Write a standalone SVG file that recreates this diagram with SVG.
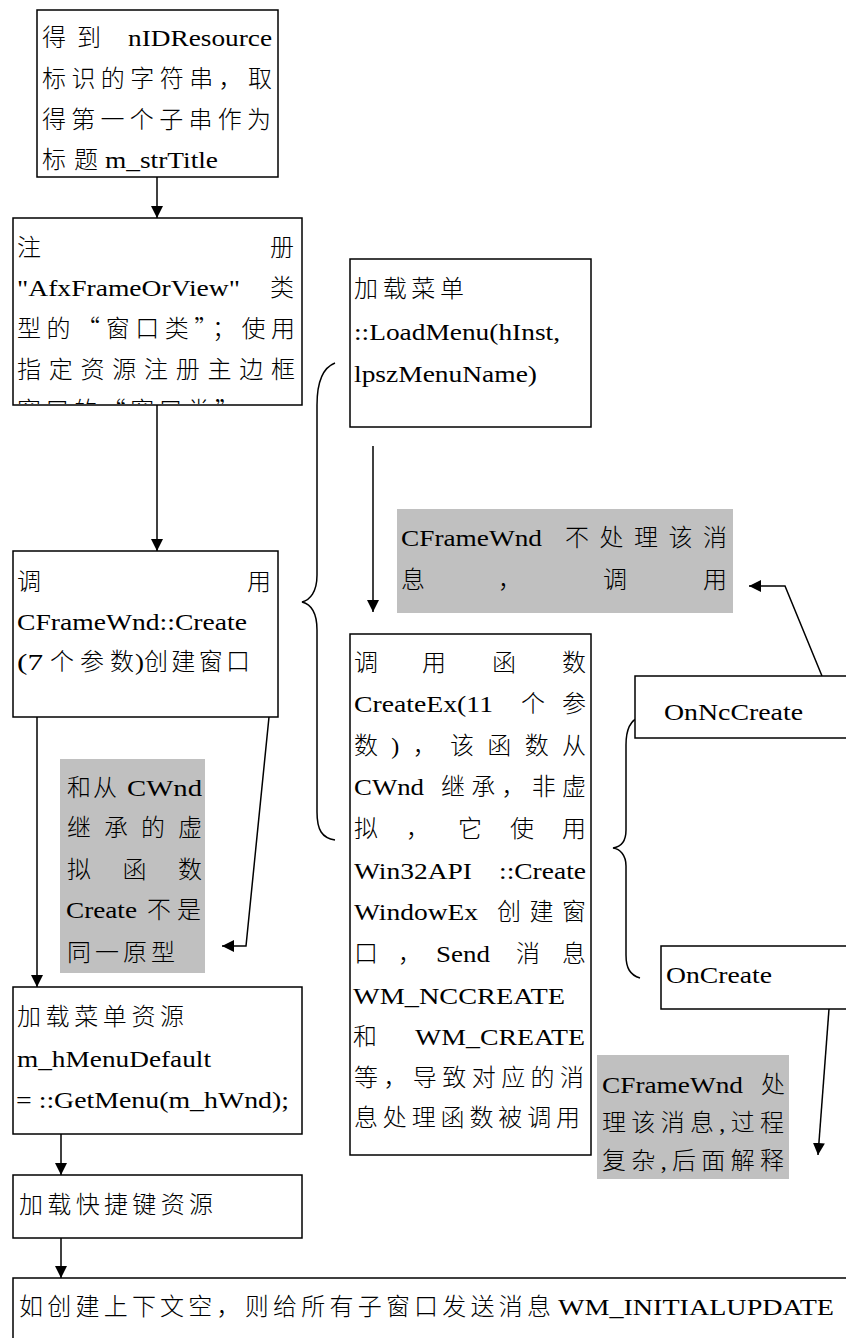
<svg xmlns="http://www.w3.org/2000/svg" width="846" height="1338" viewBox="0 0 846 1338">
<style>
.b{fill:#fff;stroke:#000;stroke-width:1.5}
.g{fill:#c0c0c0;stroke:none}
.t{font-family:"Liberation Serif","Noto Sans CJK SC",serif;font-size:24px;font-weight:300;fill:#000}
.c{font-family:"Noto Sans CJK SC","Liberation Serif",sans-serif;font-size:24px;font-weight:300;fill:#000}
.ln{fill:none;stroke:#000;stroke-width:1.5}
</style>
<defs>
<marker id="ah" viewBox="0 0 12 12" markerUnits="userSpaceOnUse" markerWidth="12" markerHeight="12" refX="12" refY="6" orient="auto">
<path d="M0,0 L12,6 L0,12 z" fill="#000"/>
</marker>
<clipPath id="clip2"><rect x="13" y="218" width="289" height="186"/></clipPath>
</defs>
<rect width="846" height="1338" fill="#fff"/>

<g id="connectors">
<path class="ln" d="M157,177 V218" marker-end="url(#ah)"/>
<path class="ln" d="M157,405 V551" marker-end="url(#ah)"/>
<path class="ln" d="M37,717 V987" marker-end="url(#ah)"/>
<path class="ln" d="M269,717 L246,946 L222,946" marker-end="url(#ah)"/>
<path class="ln" d="M61,1134 V1175" marker-end="url(#ah)"/>
<path class="ln" d="M61,1238 V1278" marker-end="url(#ah)"/>
<path class="ln" d="M373,446 V612" marker-end="url(#ah)"/>
<path class="ln" d="M822,676 L785,586 L749,586" marker-end="url(#ah)"/>
<path class="ln" d="M829,1009 L818,1155" marker-end="url(#ah)"/>
<path class="ln" d="M335,363 C322,368 317,385 317,405 L317,575 C317,592 310,600 302,602 C310,604 317,612 317,630 L317,812 C317,830 322,838 335,840"/>
<path class="ln" d="M640,717 C630,720 626,730 626,745 L626,830 C626,842 620,847 613,848 C620,849 626,855 626,866 L626,955 C626,968 630,975 640,978"/>
</g>

<g id="n1">
<rect class="b" x="37" y="10" width="241" height="167"/>
<text class="c" x="42" y="46">得</text>
<text class="c" x="77" y="46">到</text>
<text class="t" x="128" y="46" textLength="144" lengthAdjust="spacingAndGlyphs">nIDResource</text>
<text class="c" x="42" y="87" textLength="230" lengthAdjust="spacing">标识的字符串，取</text>
<text class="c" x="42" y="128" textLength="229" lengthAdjust="spacing">得第一个子串作为</text>
<text class="c" x="42" y="168" textLength="56" lengthAdjust="spacing">标题</text>
<text class="t" x="105" y="168" textLength="113" lengthAdjust="spacingAndGlyphs">m_strTitle</text>
</g>

<g id="n2">
<rect class="b" x="13" y="218" width="289" height="187"/>
<text class="c" x="17" y="256">注</text>
<text class="c" x="270" y="256">册</text>
<text class="t" x="17" y="296" textLength="223" lengthAdjust="spacingAndGlyphs">"AfxFrameOrView"</text>
<text class="c" x="270" y="296">类</text>
<text class="c" x="17" y="337" textLength="278" lengthAdjust="spacing">型的“窗口类”；使用</text>
<text class="c" x="17" y="378" textLength="278" lengthAdjust="spacing">指定资源注册主边框</text>
<text class="c" x="17" y="419" textLength="222" lengthAdjust="spacing" clip-path="url(#clip2)">窗口的“窗口类”</text>
</g>

<g id="n3">
<rect class="b" x="13" y="551" width="265" height="166"/>
<text class="c" x="17" y="590">调</text>
<text class="c" x="247" y="590">用</text>
<text class="t" x="17" y="630" textLength="230" lengthAdjust="spacingAndGlyphs">CFrameWnd::Create</text>
<text class="t" x="17" y="670" textLength="26" lengthAdjust="spacingAndGlyphs">(7</text>
<text class="c" x="50" y="670" textLength="84" lengthAdjust="spacing">个参数</text>
<text class="t" x="135" y="670" textLength="9" lengthAdjust="spacingAndGlyphs">)</text>
<text class="c" x="144" y="670" textLength="106" lengthAdjust="spacing">创建窗口</text>
</g>

<g id="noteA">
<rect class="g" x="60" y="759" width="145" height="214"/>
<text class="c" x="67" y="796" textLength="50" lengthAdjust="spacing">和从</text>
<text class="t" x="127" y="796" textLength="75" lengthAdjust="spacingAndGlyphs">CWnd</text>
<text class="c" x="67" y="836" textLength="135" lengthAdjust="spacing">继承的虚</text>
<text class="c" x="67" y="878" textLength="135" lengthAdjust="spacing">拟函数</text>
<text class="t" x="66" y="918" textLength="71" lengthAdjust="spacingAndGlyphs">Create</text>
<text class="c" x="147" y="918" textLength="54" lengthAdjust="spacing">不是</text>
<text class="c" x="67" y="961" textLength="108" lengthAdjust="spacing">同一原型</text>
</g>

<g id="n4">
<rect class="b" x="13" y="987" width="289" height="147"/>
<text class="c" x="17" y="1025" textLength="167" lengthAdjust="spacing">加载菜单资源</text>
<text class="t" x="17" y="1067" textLength="194" lengthAdjust="spacingAndGlyphs">m_hMenuDefault</text>
<text class="t" x="16" y="1108" textLength="273" lengthAdjust="spacingAndGlyphs">= ::GetMenu(m_hWnd);</text>
</g>

<g id="n5">
<rect class="b" x="13" y="1175" width="289" height="63"/>
<text class="c" x="19" y="1213" textLength="194" lengthAdjust="spacing">加载快捷键资源</text>
</g>

<g id="n6">
<rect class="b" x="13" y="1278" width="850" height="80"/>
<text class="c" x="19" y="1315" textLength="532" lengthAdjust="spacing">如创建上下文空，则给所有子窗口发送消息</text>
<text class="t" x="558" y="1315" textLength="276" lengthAdjust="spacingAndGlyphs">WM_INITIALUPDATE</text>
</g>

<g id="n7">
<rect class="b" x="350" y="259" width="241" height="168"/>
<text class="c" x="354" y="297" textLength="110" lengthAdjust="spacing">加载菜单</text>
<text class="t" x="354" y="340" textLength="206" lengthAdjust="spacingAndGlyphs">::LoadMenu(hInst,</text>
<text class="t" x="354" y="382" textLength="183" lengthAdjust="spacingAndGlyphs">lpszMenuName)</text>
</g>

<g id="noteB">
<rect class="g" x="397" y="509" width="336" height="104"/>
<text class="t" x="401" y="546" textLength="141" lengthAdjust="spacingAndGlyphs">CFrameWnd</text>
<text class="c" x="565" y="546" textLength="162" lengthAdjust="spacing">不处理该消</text>
<text class="c" x="401" y="588">息</text>
<text class="c" x="498" y="588">，</text>
<text class="c" x="603" y="588">调</text>
<text class="c" x="703" y="588">用</text>
</g>

<g id="n8">
<rect class="b" x="350" y="634" width="241" height="521"/>
<text class="c" x="354" y="671">调</text>
<text class="c" x="422" y="671">用</text>
<text class="c" x="492" y="671">函</text>
<text class="c" x="562" y="671">数</text>
<text class="t" x="354" y="712" textLength="139" lengthAdjust="spacingAndGlyphs">CreateEx(11</text>
<text class="c" x="521" y="712">个</text>
<text class="c" x="562" y="712">参</text>
<text class="t" x="354" y="754" textLength="232" lengthAdjust="spacing">数)，该函数从</text>
<text class="t" x="354" y="795" textLength="70" lengthAdjust="spacingAndGlyphs">CWnd</text>
<text class="c" x="441" y="795" textLength="145" lengthAdjust="spacing">继承，非虚</text>
<text class="c" x="354" y="837" textLength="232" lengthAdjust="spacing">拟，它使用</text>
<text class="t" x="354" y="879" textLength="118" lengthAdjust="spacingAndGlyphs">Win32API</text>
<text class="t" x="499" y="879" textLength="87" lengthAdjust="spacingAndGlyphs">::Create</text>
<text class="t" x="354" y="920" textLength="124" lengthAdjust="spacingAndGlyphs">WindowEx</text>
<text class="c" x="497" y="920" textLength="89" lengthAdjust="spacing">创建窗</text>
<text class="c" x="354" y="962">口</text>
<text class="c" x="398" y="962">，</text>
<text class="t" x="436" y="962" textLength="54" lengthAdjust="spacingAndGlyphs">Send</text>
<text class="c" x="516" y="962">消</text>
<text class="c" x="562" y="962">息</text>
<text class="t" x="353" y="1004" textLength="212" lengthAdjust="spacingAndGlyphs">WM_NCCREATE</text>
<text class="c" x="353" y="1045">和</text>
<text class="t" x="415" y="1045" textLength="170" lengthAdjust="spacingAndGlyphs">WM_CREATE</text>
<text class="c" x="354" y="1086" textLength="230" lengthAdjust="spacing">等，导致对应的消</text>
<text class="c" x="354" y="1126" textLength="226" lengthAdjust="spacing">息处理函数被调用</text>
</g>

<g id="n9">
<rect class="b" x="635" y="676" width="230" height="62"/>
<text class="t" x="664" y="720" textLength="139" lengthAdjust="spacingAndGlyphs">OnNcCreate</text>
</g>

<g id="n10">
<rect class="b" x="661" y="946" width="200" height="63"/>
<text class="t" x="666" y="983" textLength="106" lengthAdjust="spacingAndGlyphs">OnCreate</text>
</g>

<g id="noteC">
<rect class="g" x="597" y="1055" width="192" height="124"/>
<text class="t" x="602" y="1093" textLength="141" lengthAdjust="spacingAndGlyphs">CFrameWnd</text>
<text class="c" x="761" y="1093">处</text>
<text class="t" x="602" y="1131" textLength="182" lengthAdjust="spacing">理该消息,过程</text>
<text class="t" x="602" y="1169" textLength="182" lengthAdjust="spacing">复杂,后面解释</text>
</g>
</svg>
